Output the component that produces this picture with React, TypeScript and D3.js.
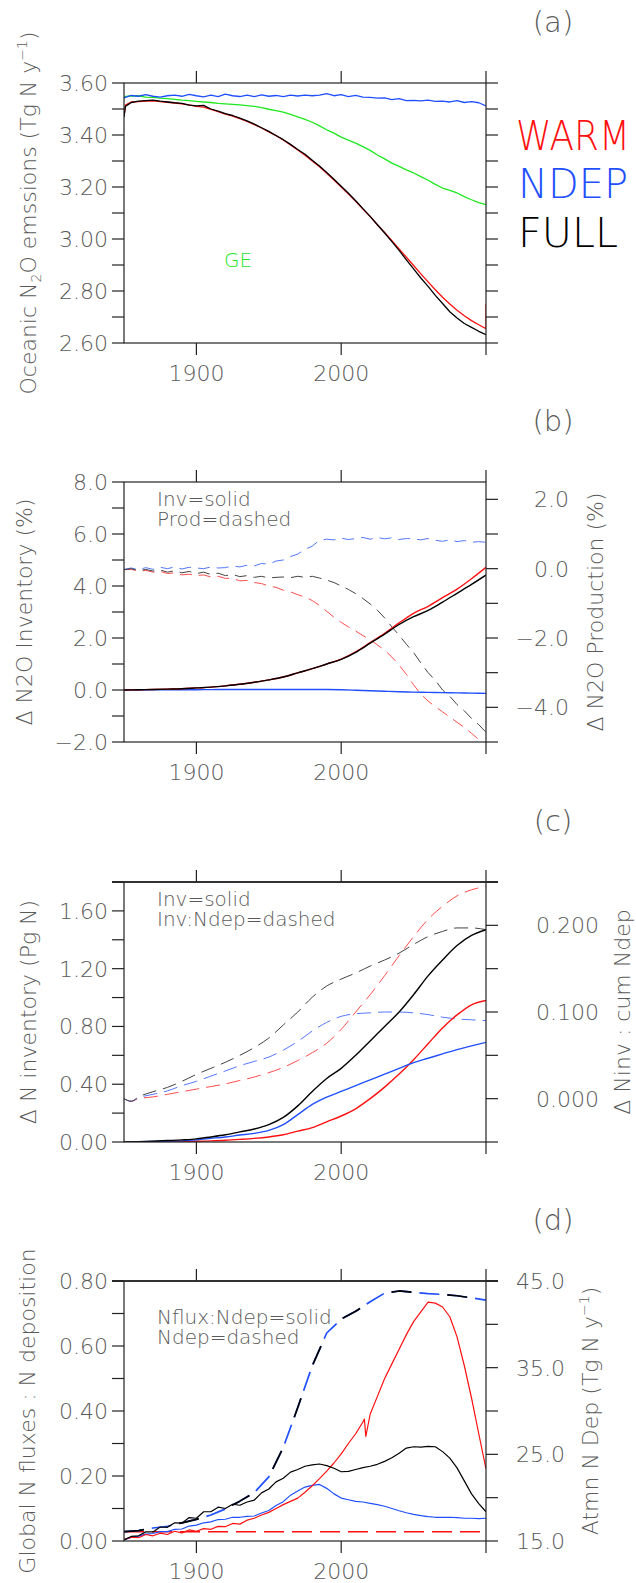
import React from 'react';
import * as d3 from 'd3';

// ---------- categories / ticks ----------
const X_DOMAIN: [number, number] = [1850, 2100];
const YEAR_TICKS = [1900, 2000, 2100];
const YEAR_LABELS = [1900, 2000];
const YEARS5 = d3.range(1850, 2101, 5);
const YEARS10 = d3.range(1850, 2101, 10);
const YEARS_A = [1850, 1851, ...d3.range(1855, 2101, 5)];
const YEARS_A_WARM = [...YEARS_A, 2100];
const YEARS_C_DASH = [1850, 1855, ...d3.range(1860, 2101, 10)];
const YEARS_D_WARM = [...d3.range(1850, 2016, 5), 2016, 2017, ...d3.range(2020, 2101, 5)];
const YEARS_D_CONST = [1850, 2100];

// ---------- panel (a): oceanic N2O emissions (Tg N / y) ----------
const A_FULL = [3.47, 3.51, 3.525, 3.53, 3.532, 3.534, 3.53, 3.527, 3.524, 3.522, 3.515, 3.512, 3.514, 3.5, 3.492, 3.482, 3.475, 3.465, 3.454, 3.442, 3.428, 3.414, 3.398, 3.382, 3.364, 3.344, 3.326, 3.303, 3.281, 3.256, 3.23, 3.203, 3.176, 3.147, 3.117, 3.087, 3.055, 3.023, 2.99, 2.956, 2.92, 2.885, 2.85, 2.818, 2.783, 2.752, 2.72, 2.696, 2.675, 2.66, 2.645, 2.632];
const A_WARM = [3.47, 3.515, 3.527, 3.528, 3.53, 3.531, 3.528, 3.526, 3.523, 3.52, 3.516, 3.51, 3.507, 3.499, 3.49, 3.48, 3.473, 3.463, 3.452, 3.44, 3.427, 3.412, 3.397, 3.381, 3.362, 3.342, 3.322, 3.3, 3.278, 3.253, 3.227, 3.2, 3.173, 3.145, 3.115, 3.086, 3.055, 3.025, 2.994, 2.962, 2.93, 2.898, 2.866, 2.835, 2.805, 2.776, 2.75, 2.726, 2.705, 2.686, 2.67, 2.655, 2.75];
const A_GE = [3.542, 3.548, 3.55, 3.551, 3.546, 3.545, 3.542, 3.54, 3.537, 3.534, 3.532, 3.529, 3.527, 3.525, 3.522, 3.52, 3.518, 3.516, 3.513, 3.51, 3.505, 3.499, 3.494, 3.488, 3.479, 3.47, 3.46, 3.449, 3.435, 3.42, 3.407, 3.392, 3.38, 3.369, 3.355, 3.341, 3.323, 3.308, 3.292, 3.279, 3.266, 3.254, 3.24, 3.226, 3.21, 3.196, 3.187, 3.177, 3.163, 3.151, 3.14, 3.132];
const A_NDEP = [3.542, 3.545, 3.552, 3.549, 3.555, 3.549, 3.546, 3.551, 3.553, 3.549, 3.556, 3.551, 3.547, 3.553, 3.548, 3.557, 3.551, 3.548, 3.553, 3.548, 3.554, 3.549, 3.552, 3.548, 3.553, 3.55, 3.553, 3.551, 3.553, 3.559, 3.551, 3.555, 3.548, 3.552, 3.546, 3.545, 3.542, 3.543, 3.536, 3.54, 3.532, 3.533, 3.531, 3.534, 3.529, 3.53, 3.527, 3.532, 3.525, 3.528, 3.524, 3.512];

// ---------- panel (b): delta N2O inventory (%) solid, production (%) dashed ----------
const B_INV_FULL = [0, 0.01, 0.02, 0.035, 0.05, 0.08, 0.11, 0.16, 0.22, 0.3, 0.39, 0.5, 0.66, 0.82, 1.0, 1.18, 1.45, 1.8, 2.15, 2.52, 2.82, 3.06, 3.38, 3.72, 4.06, 4.42];
const B_INV_WARM = [0, 0.01, 0.02, 0.035, 0.05, 0.08, 0.11, 0.16, 0.22, 0.3, 0.39, 0.5, 0.66, 0.82, 1.0, 1.19, 1.47, 1.82, 2.18, 2.58, 2.95, 3.22, 3.55, 3.88, 4.28, 4.72];
const B_INV_NDEP = [0, 0, 0.005, 0.01, 0.01, 0.012, 0.015, 0.018, 0.02, 0.02, 0.022, 0.022, 0.022, 0.022, 0.02, 0.01, -0.01, -0.03, -0.05, -0.07, -0.08, -0.09, -0.1, -0.11, -0.12, -0.13];
const B_PROD_NDEP = [-0.02, 0.02, -0.03, 0.03, -0.02, 0.04, 0.0, 0.05, -0.01, 0.04, 0.02, 0.0, 0.05, 0.02, 0.03, 0.08, 0.05, 0.1, 0.08, 0.15, 0.13, 0.22, 0.25, 0.35, 0.42, 0.56, 0.65, 0.82, 0.85, 0.83, 0.88, 0.84, 0.87, 0.9, 0.85, 0.9, 0.86, 0.89, 0.84, 0.87, 0.86, 0.83, 0.87, 0.82, 0.79, 0.83, 0.78, 0.81, 0.76, 0.78, 0.76];
const B_PROD_FULL = [-0.03, 0.0, -0.06, -0.02, -0.07, -0.04, -0.1, -0.06, -0.12, -0.08, -0.14, -0.1, -0.17, -0.13, -0.2, -0.17, -0.23, -0.2, -0.25, -0.22, -0.27, -0.25, -0.24, -0.26, -0.22, -0.25, -0.22, -0.27, -0.33, -0.4, -0.5, -0.6, -0.72, -0.86, -1.02, -1.2, -1.42, -1.68, -1.92, -2.18, -2.42, -2.72, -3.0, -3.22, -3.5, -3.68, -3.92, -4.1, -4.32, -4.5, -4.72];
const B_PROD_WARM = [-0.03, -0.02, -0.07, -0.05, -0.1, -0.08, -0.14, -0.12, -0.18, -0.16, -0.2, -0.18, -0.24, -0.22, -0.28, -0.28, -0.35, -0.34, -0.4, -0.43, -0.5, -0.54, -0.62, -0.67, -0.75, -0.82, -0.92, -1.06, -1.23, -1.4, -1.55, -1.68, -1.8, -1.93, -2.05, -2.2, -2.35, -2.55, -2.78, -3.05, -3.35, -3.62, -3.82, -3.98, -4.13, -4.28, -4.43, -4.58, -4.75, -4.93, -5.1];

// ---------- panel (c): delta N inventory (Pg N) solid, Ninv:cum Ndep dashed ----------
const C_INV_FULL = [0, 0.002, 0.005, 0.01, 0.015, 0.022, 0.035, 0.05, 0.07, 0.09, 0.12, 0.17, 0.25, 0.35, 0.44, 0.51, 0.6, 0.7, 0.8, 0.9, 1.02, 1.15, 1.26, 1.36, 1.43, 1.47];
const C_INV_NDEP = [0, 0.002, 0.004, 0.005, 0.008, 0.015, 0.025, 0.035, 0.048, 0.06, 0.08, 0.12, 0.19, 0.26, 0.31, 0.35, 0.39, 0.43, 0.47, 0.51, 0.55, 0.58, 0.61, 0.64, 0.665, 0.69];
const C_INV_WARM = [0, 0.001, 0.002, 0.003, 0.004, 0.005, 0.008, 0.012, 0.018, 0.025, 0.035, 0.05, 0.075, 0.1, 0.14, 0.18, 0.23, 0.3, 0.38, 0.47, 0.57, 0.68, 0.79, 0.88, 0.95, 0.98];
const C_RATIO_FULL = [0, -0.003, 0.002, 0.008, 0.013, 0.02, 0.028, 0.035, 0.042, 0.05, 0.059, 0.07, 0.085, 0.1, 0.117, 0.13, 0.138, 0.145, 0.153, 0.16, 0.168, 0.178, 0.187, 0.193, 0.197, 0.197, 0.195];
const C_RATIO_NDEP = [0, -0.003, 0.001, 0.005, 0.009, 0.015, 0.02, 0.026, 0.032, 0.038, 0.043, 0.048, 0.056, 0.066, 0.078, 0.088, 0.095, 0.098, 0.099, 0.1, 0.1, 0.099, 0.097, 0.094, 0.092, 0.091, 0.09];
const C_RATIO_WARM = [0, -0.003, 0, 0.002, 0.005, 0.008, 0.011, 0.014, 0.017, 0.021, 0.025, 0.03, 0.036, 0.044, 0.053, 0.064, 0.08, 0.1, 0.12, 0.142, 0.165, 0.187, 0.207, 0.222, 0.234, 0.241, 0.245];

// ---------- panel (d): N flux : N deposition (solid), atmospheric N deposition Tg N/y (dashed) ----------
const D_FLUX_FULL = [0.003, 0.014, 0.016, 0.028, 0.028, 0.043, 0.042, 0.056, 0.055, 0.072, 0.07, 0.09, 0.09, 0.104, 0.1, 0.113, 0.11, 0.12, 0.126, 0.148, 0.16, 0.182, 0.193, 0.212, 0.22, 0.23, 0.234, 0.237, 0.232, 0.224, 0.213, 0.214, 0.22, 0.226, 0.23, 0.236, 0.245, 0.256, 0.27, 0.286, 0.29, 0.289, 0.291, 0.29, 0.275, 0.255, 0.225, 0.185, 0.145, 0.115, 0.09];
const D_FLUX_NDEP = [0.003, 0.011, 0.015, 0.021, 0.023, 0.029, 0.029, 0.036, 0.037, 0.046, 0.049, 0.056, 0.059, 0.066, 0.067, 0.073, 0.073, 0.076, 0.077, 0.086, 0.094, 0.109, 0.121, 0.141, 0.154, 0.166, 0.171, 0.174, 0.162, 0.145, 0.132, 0.127, 0.122, 0.12, 0.116, 0.112, 0.107, 0.1, 0.093, 0.087, 0.082, 0.078, 0.075, 0.073, 0.073, 0.073, 0.072, 0.07, 0.07, 0.069, 0.07];
const D_FLUX_WARM = [0.005, 0.012, 0.01, 0.02, 0.016, 0.024, 0.02, 0.03, 0.025, 0.034, 0.03, 0.038, 0.036, 0.045, 0.044, 0.054, 0.052, 0.064, 0.07, 0.08, 0.088, 0.1, 0.112, 0.122, 0.132, 0.15, 0.17, 0.192, 0.215, 0.24, 0.268, 0.3, 0.33, 0.366, 0.375, 0.322, 0.39, 0.445, 0.5, 0.545, 0.59, 0.635, 0.675, 0.705, 0.735, 0.732, 0.72, 0.69, 0.628, 0.54, 0.44, 0.33, 0.222];
const D_NDEP = [16.07, 16.2, 16.5, 16.7, 17.1, 17.5, 18.0, 18.7, 19.6, 20.6, 22.4, 25.8, 30.4, 35.2, 39.0, 40.6, 41.5, 42.6, 43.6, 43.85, 43.7, 43.55, 43.45, 43.3, 43.05, 42.8];
const D_NDEP_WARM = [16.07, 16.07];

// ---------- axis tick values ----------
const A_LEFT_TICKS = d3.range(2.6, 3.6001, 0.1);
const A_LEFT_LABELS = [2.6, 2.8, 3.0, 3.2, 3.4, 3.6];
const B_LEFT_TICKS = d3.range(-2, 8.001, 1);
const B_LEFT_LABELS = [-2, 0, 2, 4, 6, 8];
const B_RIGHT_TICKS = d3.range(-5, 2.001, 1);
const B_RIGHT_LABELS = [-4, -2, 0, 2];
const C_LEFT_TICKS = d3.range(0, 1.8001, 0.2);
const C_LEFT_LABELS = [0, 0.4, 0.8, 1.2, 1.6];
const C_RIGHT_TICKS = d3.range(-0.05, 0.2501, 0.05);
const C_RIGHT_LABELS = [0, 0.1, 0.2];
const D_LEFT_TICKS = d3.range(0, 0.8001, 0.1);
const D_LEFT_LABELS = [0, 0.2, 0.4, 0.6, 0.8];
const D_RIGHT_TICKS = d3.range(15, 45.001, 5);
const D_RIGHT_LABELS = [15, 25, 35, 45];

// ---------- styling / layout ----------
const FONT = "'DejaVu Sans', 'Liberation Sans', sans-serif";
const GREY = '#5a5a5a';
const RED = '#ff1010';
const BLUE = '#1f4fff';
const GREEN = '#1ee81e';
const BLACK = '#000000';
const L = 124;
const R = 486;
const H = 260;
const TICK = 12;

type Line = {
  xs: number[];
  ys: number[];
  color: string;
  width: number;
  dash?: string;
  right?: boolean;
  smooth?: boolean;
  opacity?: number;
};
type Axis = { domain: [number, number]; ticks: number[]; labels?: number[]; fmt?: string; labelX?: number };

function Panel(props: {
  id: string;
  top: number;
  letter: string;
  left: Axis;
  right: Axis;
  lines: Line[];
  leftTitle: React.ReactNode;
  leftTitleX: number;
  rightTitle?: React.ReactNode;
  rightTitleX?: number;
  legend?: string[];
  legendY?: number;
  thickTop?: boolean;
  children?: React.ReactNode;
}) {
  const { id, top, letter, left, right, lines } = props;
  const bottom = top + H;
  const x = d3.scaleLinear().domain(X_DOMAIN).range([L, R]);
  const yL = d3.scaleLinear().domain(left.domain).range([bottom, top]);
  const yR = d3.scaleLinear().domain(right.domain).range([bottom, top]);
  const cy = top + H / 2;
  const fL = d3.format(left.fmt || '.2f');
  const fR = d3.format(right.fmt || '.2f');
  return (
    <g>
      <defs>
        <clipPath id={`clip-${id}`}>
          <rect x={L} y={top} width={R - L} height={H} />
        </clipPath>
      </defs>
      <text x={553} y={top - 51} fontSize={29} textAnchor="middle" fill={GREY} fontFamily={FONT} fontWeight={200}>
        {letter}
      </text>
      <g clipPath={`url(#clip-${id})`}>
        {lines.map((ln, i) => {
          const ys = ln.right ? yR : yL;
          const n = Math.min(ln.xs.length, ln.ys.length);
          const idx = d3.range(n);
          const gen = d3
            .line<number>()
            .x((k) => x(ln.xs[k]))
            .y((k) => ys(ln.ys[k]))
            .curve(ln.smooth ? d3.curveMonotoneX : d3.curveLinear);
          return (
            <path
              key={i}
              d={gen(idx) || ''}
              fill="none"
              stroke={ln.color}
              strokeWidth={ln.width}
              strokeDasharray={ln.dash}
              strokeOpacity={ln.opacity ?? 1}
              strokeLinejoin="round"
            />
          );
        })}
      </g>
      {/* frame */}
      <rect x={L} y={top} width={R - L} height={H} fill="none" stroke="#222" strokeWidth={1.2} />
      {props.thickTop && <line x1={L - TICK} x2={R + TICK} y1={top} y2={top} stroke="#333" strokeWidth={2} />}
      {/* left ticks */}
      {left.ticks.map((v, i) => (
        <line key={`lt${i}`} x1={L - TICK} x2={L} y1={yL(v)} y2={yL(v)} stroke="#222" strokeWidth={1.2} />
      ))}
      {(left.labels || []).map((v, i) => (
        <text key={`ll${i}`} x={108} y={yL(v)} dy="0.36em" textAnchor="end" fontSize={22} fill={GREY} fontFamily={FONT} fontWeight={200}>
          {fL(v)}
        </text>
      ))}
      {/* right ticks */}
      {right.ticks.map((v, i) => (
        <line key={`rt${i}`} x1={R} x2={R + TICK} y1={yR(v)} y2={yR(v)} stroke="#222" strokeWidth={1.2} />
      ))}
      {(right.labels || []).map((v, i) => (
        <text key={`rl${i}`} x={right.labelX} y={yR(v)} dy="0.36em" textAnchor="end" fontSize={22} fill={GREY} fontFamily={FONT} fontWeight={200}>
          {fR(v)}
        </text>
      ))}
      {/* x ticks */}
      {YEAR_TICKS.map((yr) => (
        <g key={`xt${yr}`}>
          <line x1={x(yr)} x2={x(yr)} y1={top - TICK} y2={top} stroke="#222" strokeWidth={1.2} />
          <line x1={x(yr)} x2={x(yr)} y1={bottom} y2={bottom + TICK} stroke="#222" strokeWidth={1.2} />
        </g>
      ))}
      {YEAR_LABELS.map((yr) => (
        <text key={`xl${yr}`} x={x(yr)} y={bottom + 38} textAnchor="middle" fontSize={22} fill={GREY} fontFamily={FONT} fontWeight={200}>
          {yr}
        </text>
      ))}
      {/* titles */}
      <text
        transform={`translate(${props.leftTitleX},${cy}) rotate(-90)`}
        textAnchor="middle"
        fontSize={22}
        fill={GREY}
        fontFamily={FONT}
        fontWeight={200}
      >
        {props.leftTitle}
      </text>
      {props.rightTitle && (
        <text
          transform={`translate(${props.rightTitleX},${cy}) rotate(-90)`}
          textAnchor="middle"
          fontSize={22}
          fill={GREY}
          fontFamily={FONT}
          fontWeight={200}
        >
          {props.rightTitle}
        </text>
      )}
      {(props.legend || []).map((t, i) => (
        <text key={`lg${i}`} x={157} y={(props.legendY || 0) + i * 20} fontSize={20} fill={GREY} fontFamily={FONT} fontWeight={200}>
          {t}
        </text>
      ))}
      {props.children}
    </g>
  );
}

export default function App() {
  const tops = [83, 482, 882, 1281];
  return (
    <svg
      width={636}
      height={1583}
      viewBox="0 0 636 1583"
      style={{ position: 'absolute', left: 0, top: 0, background: '#fff' }}
    >
      <rect x={0} y={0} width={636} height={1583} fill="#fff" />
      {/* (a) */}
      <Panel
        id="a"
        top={tops[0]}
        letter="(a)"
        left={{ domain: [2.6, 3.6], ticks: A_LEFT_TICKS, labels: A_LEFT_LABELS, fmt: '.2f' }}
        right={{ domain: [2.6, 3.6], ticks: A_LEFT_TICKS }}
        lines={[
          { xs: YEARS_A, ys: A_GE, color: GREEN, width: 1.3 },
          { xs: YEARS_A, ys: A_NDEP, color: BLUE, width: 1.3 },
          { xs: YEARS_A_WARM, ys: A_WARM, color: RED, width: 1.3 },
          { xs: YEARS_A, ys: A_FULL, color: BLACK, width: 1.3 },
        ]}
        leftTitleX={36}
        leftTitle={
          <>
            <tspan>Oceanic N</tspan>
            <tspan dy={5} fontSize={14}>2</tspan>
            <tspan dy={-5}>O emssions (Tg N y</tspan>
            <tspan dy={-9} fontSize={14}>−1</tspan>
            <tspan dy={9}>)</tspan>
          </>
        }
      >
        <text x={224} y={267} fontSize={20} fill={GREEN} fontFamily={FONT} fontWeight={200}>GE</text>
        <text x={516} y={150} fontSize={40} fill={RED} fontFamily={FONT} fontWeight={200} textLength={114} lengthAdjust="spacingAndGlyphs">WARM</text>
        <text x={518} y={198} fontSize={40} fill={BLUE} fontFamily={FONT} fontWeight={200} textLength={110} lengthAdjust="spacingAndGlyphs">NDEP</text>
        <text x={518} y={247} fontSize={40} fill={BLACK} fontFamily={FONT} fontWeight={200} textLength={100} lengthAdjust="spacingAndGlyphs">FULL</text>
      </Panel>

      {/* (b) */}
      <Panel
        id="b"
        top={tops[1]}
        letter="(b)"
        left={{ domain: [-2, 8], ticks: B_LEFT_TICKS, labels: B_LEFT_LABELS, fmt: '.1f' }}
        right={{ domain: [-5, 2.5], ticks: B_RIGHT_TICKS, labels: B_RIGHT_LABELS, fmt: '.1f', labelX: 569 }}
        lines={[
          { xs: YEARS5, ys: B_PROD_NDEP, color: '#5577ff', width: 1, dash: '12 7', right: true },
          { xs: YEARS5, ys: B_PROD_WARM, color: '#ff4d4d', width: 1, dash: '12 7', right: true },
          { xs: YEARS5, ys: B_PROD_FULL, color: '#444', width: 1, dash: '12 7', right: true },
          { xs: YEARS10, ys: B_INV_NDEP, color: BLUE, width: 1.4, smooth: true },
          { xs: YEARS10, ys: B_INV_WARM, color: RED, width: 1.4, smooth: true },
          { xs: YEARS10, ys: B_INV_FULL, color: BLACK, width: 1.4, smooth: true },
        ]}
        leftTitleX={32}
        leftTitle={<tspan>Δ N2O Inventory (%)</tspan>}
        rightTitleX={603}
        rightTitle={<tspan>Δ N2O Production (%)</tspan>}
        legend={['Inv=solid', 'Prod=dashed']}
        legendY={tops[1] + 24}
      />

      {/* (c) */}
      <Panel
        id="c"
        top={tops[2]}
        letter="(c)"
        left={{ domain: [0, 1.8], ticks: C_LEFT_TICKS, labels: C_LEFT_LABELS, fmt: '.2f' }}
        right={{ domain: [-0.05, 0.25], ticks: C_RIGHT_TICKS, labels: C_RIGHT_LABELS, fmt: '.3f', labelX: 599 }}
        lines={[
          { xs: YEARS_C_DASH, ys: C_RATIO_WARM, color: '#ff4d4d', width: 1, dash: '14 7', right: true, smooth: true },
          { xs: YEARS_C_DASH, ys: C_RATIO_NDEP, color: '#5577ff', width: 1, dash: '14 7', right: true, smooth: true },
          { xs: YEARS_C_DASH, ys: C_RATIO_FULL, color: '#444', width: 1, dash: '14 7', right: true, smooth: true },
          { xs: YEARS10, ys: C_INV_WARM, color: RED, width: 1.4, smooth: true },
          { xs: YEARS10, ys: C_INV_NDEP, color: BLUE, width: 1.4, smooth: true },
          { xs: YEARS10, ys: C_INV_FULL, color: BLACK, width: 1.4, smooth: true },
        ]}
        leftTitleX={36}
        leftTitle={<tspan>Δ N inventory (Pg N)</tspan>}
        rightTitleX={630}
        rightTitle={<tspan>Δ Ninv : cum Ndep</tspan>}
        legend={['Inv=solid', 'Inv:Ndep=dashed']}
        legendY={tops[2] + 24}
        thickTop
      />

      {/* (d) */}
      <Panel
        id="d"
        top={tops[3]}
        letter="(d)"
        left={{ domain: [0, 0.8], ticks: D_LEFT_TICKS, labels: D_LEFT_LABELS, fmt: '.2f' }}
        right={{ domain: [15, 45], ticks: D_RIGHT_TICKS, labels: D_RIGHT_LABELS, fmt: '.1f', labelX: 565 }}
        lines={[
          { xs: YEARS_D_CONST, ys: D_NDEP_WARM, color: RED, width: 1.6, dash: '20 8', right: true },
          { xs: YEARS10, ys: D_NDEP, color: BLUE, width: 1.7, dash: '20 8', right: true },
          { xs: YEARS10, ys: D_NDEP, color: BLACK, width: 1.7, dash: '20 36', right: true },
          { xs: YEARS5, ys: D_FLUX_NDEP, color: BLUE, width: 1.2 },
          { xs: YEARS_D_WARM, ys: D_FLUX_WARM, color: RED, width: 1.2 },
          { xs: YEARS5, ys: D_FLUX_FULL, color: BLACK, width: 1.2 },
        ]}
        leftTitleX={35}
        leftTitle={<tspan>Global N fluxes : N deposition</tspan>}
        rightTitleX={598}
        rightTitle={
          <>
            <tspan>Atmn N Dep (Tg N y</tspan>
            <tspan dy={-9} fontSize={14}>−1</tspan>
            <tspan dy={9}>)</tspan>
          </>
        }
        legend={['Nflux:Ndep=solid', 'Ndep=dashed']}
        legendY={tops[3] + 43}
        thickTop
      />
    </svg>
  );
}
